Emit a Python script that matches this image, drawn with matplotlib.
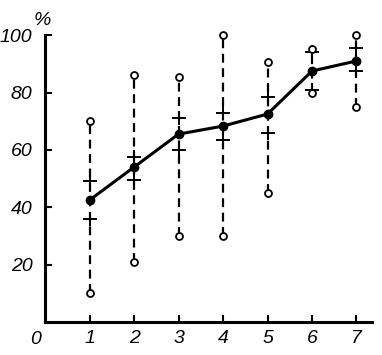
import numpy as np
import matplotlib.pyplot as plt

x = [1, 2, 3, 4, 5, 6, 7]
mean = [42.5, 54, 65.5, 68.3, 72.5, 87.5, 91]
upper = [49, 57.5, 71, 73, 78.5, 94, 95.5]
lower = [36, 49.5, 60, 63.5, 66, 81, 87.5]
vmax = [70, 86, 85.5, 100, 90.5, 95, 100]
vmin = [10, 21, 30, 30, 45, 80, 75]

fig = plt.figure(figsize=(3.82, 3.55), dpi=100)
ax = fig.add_axes([0.118, 0.093, 0.856, 0.808])

font = dict(family='Liberation Sans', style='italic', size=14)

for xi, lo, hi in zip(x, vmin, vmax):
    ax.plot([xi, xi], [lo, hi], color='black', lw=1.6, ls=(0, (4, 2.5)), clip_on=False, zorder=2)
ax.plot(x, vmax, 'o', ms=5, mfc='white', mec='black', mew=1.3, clip_on=False, zorder=4)
ax.plot(x, vmin, 'o', ms=5, mfc='white', mec='black', mew=1.3, clip_on=False, zorder=4)
ax.plot(x, upper, '+', ms=10, mec='black', mew=1.4, clip_on=False, zorder=3)
ax.plot(x, lower, '+', ms=10, mec='black', mew=1.4, clip_on=False, zorder=3)
ax.plot(x, mean, '-o', color='black', lw=2.2, ms=6, clip_on=False, zorder=5)

ax.set_xlim(0, 7.35)
ax.set_ylim(0, 100)
ax.spines['top'].set_visible(False)
ax.spines['right'].set_visible(False)
ax.spines['left'].set_linewidth(2.2)
ax.spines['bottom'].set_linewidth(2.2)
ax.set_xticks(x)
ax.set_yticks([20, 40, 60, 80, 100])
ax.tick_params(direction='in', length=5, width=1.5)
ax.tick_params(axis='x', pad=6)
ax.tick_params(axis='y', pad=9)
ax.set_xticklabels([str(v) for v in x], **font)
ax.set_yticklabels(['20', '40', '60', '80', '100'], **font)
ax.text(-0.03, -0.03, '0', transform=ax.transAxes, ha='center', va='top', **font)
ax.text(-0.01, 1.02, '%', transform=ax.transAxes, ha='center', va='bottom', **font)

fig.savefig('out.png', dpi=100)
